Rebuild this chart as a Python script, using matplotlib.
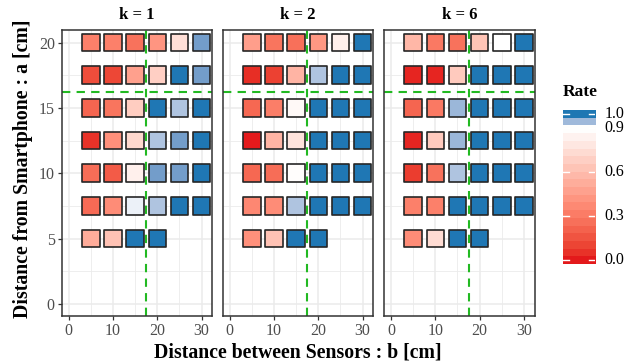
import numpy as np
import matplotlib
matplotlib.use("Agg")
import matplotlib.pyplot as plt
from matplotlib.colors import ListedColormap

plt.rcParams['font.family'] = ['Liberation Serif', 'DejaVu Serif']

# data: rate for every (b, a) position, rows from top (a = 20) to bottom (a = 5)
b_cm = [5, 10, 15, 20, 25, 30]
a_cm = [20, 17.5, 15, 12.5, 10, 7.5, 5]
k_labels = ['k = 1', 'k = 2', 'k = 6']

rate_k1 = [
    [0.33, 0.33, 0.27, 0.42, 0.75, 0.97],
    [0.13, 0.11, 0.47, 0.68, 1.00, 0.97],
    [0.22, 0.28, 0.67, 1.00, 0.94, 1.00],
    [0.05, 0.40, 0.72, 0.94, 0.97, 1.00],
    [0.25, 0.18, 0.83, 0.97, 0.97, 1.00],
    [0.24, 0.38, 0.91, 0.94, 1.00, 1.00],
    [0.52, 0.62, 1.00, 1.00],
]
rate_k2 = [
    [0.46, 0.28, 0.26, 0.43, 0.83, 1.00],
    [0.04, 0.09, 0.56, 0.94, 1.00, 1.00],
    [0.23, 0.32, 0.87, 1.00, 1.00, 1.00],
    [0.00, 0.56, 0.77, 1.00, 1.00, 1.00],
    [0.23, 0.25, 0.89, 1.00, 1.00, 1.00],
    [0.36, 0.38, 0.94, 1.00, 1.00, 1.00],
    [0.40, 0.62, 1.00, 1.00],
]
rate_k6 = [
    [0.57, 0.30, 0.27, 0.63, 0.90, 1.00],
    [0.02, 0.02, 0.66, 1.00, 1.00, 1.00],
    [0.22, 0.30, 0.95, 1.00, 1.00, 1.00],
    [0.02, 0.66, 0.95, 1.00, 1.00, 1.00],
    [0.08, 0.27, 0.94, 1.00, 1.00, 1.00],
    [0.33, 0.33, 1.00, 1.00, 1.00, 1.00],
    [0.38, 0.74, 1.00, 1.00],
]
rates = [rate_k1, rate_k2, rate_k6]

b_line = 17.5
a_line = 16.25

cbar_breaks = [0.0, 0.3, 0.6, 0.9, 1.0]
cbar_labels = ['0.0', '0.3', '0.6', '0.9', '1.0']

# colour ramp red -> white -> blue, interpolated in CIELAB like ggplot
ramp_vals = [0.0, 0.9, 1.0]
ramp_cols = ['#E41A1C', '#FFFFFF', '#1F77B4']

M = np.array([[0.4124, 0.3576, 0.1805],
              [0.2126, 0.7152, 0.0722],
              [0.0193, 0.1192, 0.9505]])
WHITE = np.array([0.95047, 1.0, 1.08883])
E = 6 / 29


def to_lab(hexcol):
    c = np.array(matplotlib.colors.to_rgb(hexcol))
    lin = np.where(c <= 0.04045, c / 12.92, ((c + 0.055) / 1.055) ** 2.4)
    xyz = M @ lin / WHITE
    f = np.where(xyz > E ** 3, np.cbrt(xyz), xyz / (3 * E ** 2) + 4 / 29)
    return np.array([116 * f[1] - 16, 500 * (f[0] - f[1]), 200 * (f[1] - f[2])])


def from_lab(lab):
    fy = (lab[0] + 16) / 116
    f = np.array([fy + lab[1] / 500, fy, fy - lab[2] / 200])
    xyz = np.where(f > E, f ** 3, 3 * E ** 2 * (f - 4 / 29)) * WHITE
    lin = np.clip(np.linalg.solve(M, xyz), 0, 1)
    c = np.where(lin <= 0.0031308, 12.92 * lin, 1.055 * lin ** (1 / 2.4) - 0.055)
    return np.clip(c, 0, 1)


labs = [to_lab(c) for c in ramp_cols]


def rate_colour(v):
    for i in range(len(ramp_vals) - 1):
        if v <= ramp_vals[i + 1] or i == len(ramp_vals) - 2:
            t = (v - ramp_vals[i]) / (ramp_vals[i + 1] - ramp_vals[i])
            return from_lab(labs[i] + t * (labs[i + 1] - labs[i]))


cmap = ListedColormap([rate_colour(v) for v in np.linspace(0, 1, 512)])

W, H = 637, 364
fig = plt.figure(figsize=(W / 100, H / 100), dpi=100)

panel_left = [61.7, 222.7, 384.0]
panel_w = 150.5
panel_top, panel_bottom = 30, 316

for i, left in enumerate(panel_left):
    ax = fig.add_axes([left / W, (H - panel_bottom) / H, panel_w / W,
                       (panel_bottom - panel_top) / H])
    ax.set_xlim(-1.6, 32.4)
    ax.set_ylim(-0.93, 20.96)

    ax.set_xticks([0, 10, 20, 30])
    ax.set_xticks([5, 15, 25], minor=True)
    ax.set_yticks([0, 5, 10, 15, 20])
    ax.set_yticks([2.5, 7.5, 12.5, 17.5], minor=True)
    ax.grid(True, which='major', color='#EBEBEB', lw=1.1, zorder=0)
    ax.grid(True, which='minor', color='#EBEBEB', lw=0.6, zorder=0)
    ax.set_axisbelow(True)
    ax.tick_params(which='minor', length=0)
    ax.tick_params(which='major', length=3, width=0.9, color='#333333',
                   labelsize=11.5, labelcolor='#4D4D4D', pad=2)
    if i > 0:
        ax.tick_params(axis='y', left=False, labelleft=False)
    for sp in ax.spines.values():
        sp.set_color('#333333')
        sp.set_linewidth(1.1)

    ax.axvline(b_line, color='#22B922', lw=1.5, ls=(0, (4, 3)), zorder=1)
    ax.axhline(a_line, color='#22B922', lw=1.5, ls=(0, (4, 3)), zorder=1)

    xs, ys, vs = [], [], []
    for a, row in zip(a_cm, rates[i]):
        for b, v in zip(b_cm, row):
            xs.append(b)
            ys.append(a)
            vs.append(v)
    ax.scatter(xs, ys, c=vs, cmap=cmap, vmin=0, vmax=1, marker='s', s=160,
               edgecolors='#262626', linewidths=1.2, zorder=3)

    ax.text(0.5, 1 + 15 / (panel_bottom - panel_top), k_labels[i],
            transform=ax.transAxes, ha='center', va='center',
            fontsize=12, fontweight='bold')

fig.text(298 / W, 1 - 353 / H, 'Distance between Sensors : b [cm]',
         ha='center', va='center', fontsize=14.2, fontweight='bold')
fig.text(23 / W, 1 - 169 / H, 'Distance from Smartphone : a [cm]',
         ha='center', va='center', rotation=90, fontsize=14.2, fontweight='bold')

# colour bar, 20 bins like ggplot's default
nbin = 20
half = 0.5 / (nbin - 1)
cb_left, cb_right, cb_top, cb_bottom = 562.7, 595, 110, 264
cax = fig.add_axes([cb_left / W, (H - cb_bottom) / H, (cb_right - cb_left) / W,
                    (cb_bottom - cb_top) / H])
bins = np.linspace(0, 1, nbin).reshape(-1, 1)
cax.imshow(bins, cmap=cmap, vmin=0, vmax=1, origin='lower', aspect='auto',
           extent=[0, 1, -half, 1 + half], interpolation='nearest')
cax.set_xlim(0, 1)
cax.set_ylim(-half, 1 + half)
cax.set_xticks([])
cax.set_yticks([])
for sp in cax.spines.values():
    sp.set_visible(False)
for v, lab in zip(cbar_breaks, cbar_labels):
    cax.plot([0, 0.2], [v, v], color='white', lw=1)
    cax.plot([0.8, 1], [v, v], color='white', lw=1)
    cax.text(1.3, v, lab, ha='left', va='center', fontsize=11.5,
             transform=cax.transData, clip_on=False)
fig.text(cb_left / W, 1 - 92 / H, 'Rate', ha='left', va='center',
         fontsize=12.5, fontweight='bold')

fig.savefig('out.png', dpi=100)
